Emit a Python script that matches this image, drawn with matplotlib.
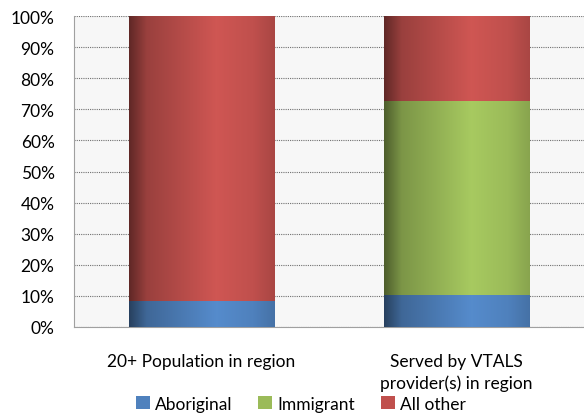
import numpy as np
import matplotlib.pyplot as plt
from matplotlib.colors import to_rgb

plt.rcParams['font.family'] = ['Lato', 'DejaVu Sans']

categories = ['20+ Population in region', 'Served by VTALS\nprovider(s) in region']
aboriginal = [8.4, 10.3]
immigrant = [0.0, 62.4]
all_other = [91.6, 27.3]
series = [('Aboriginal', aboriginal, '#4f81bd'),
          ('Immigrant', immigrant, '#9bbb59'),
          ('All other', all_other, '#c0504d')]

fig = plt.figure(figsize=(5.84, 4.14), dpi=100)
ax = fig.add_axes([74/584, 1-328/414, 510/584, 311/414])
ax.set_facecolor('#f7f7f7')

x = np.arange(len(categories))
width = 0.57
bottom = np.zeros(len(categories))
grad = np.linspace(0, 1, 200)
shade = np.interp(grad, [0, 0.12, 0.6, 0.85, 1], [0.5, 0.8, 1.08, 1.0, 0.88])

for name, vals, col in series:
    bars = ax.bar(x, vals, width, bottom=bottom, color=col, label=name, zorder=2)
    base = np.array(to_rgb(col))
    img = np.clip(base[None, :] * shade[:, None], 0, 1)[None, :, :]
    for b in bars:
        if b.get_height() <= 0:
            continue
        x0, y0 = b.get_x(), b.get_y()
        ax.imshow(img, extent=(x0, x0 + b.get_width(), y0, y0 + b.get_height()),
                  aspect='auto', zorder=3, interpolation='bilinear')
    bottom += np.array(vals)

ax.set_xlim(-0.5, 1.5)
ax.set_ylim(0, 100)
ax.set_yticks(range(0, 101, 10))
ax.set_yticklabels([f'{v}%' for v in range(0, 101, 10)], fontsize=12.5)
ax.set_xticks(x)
ax.set_xticklabels(categories, fontsize=12.5, linespacing=1.4)
ax.tick_params(length=0)
ax.tick_params(axis='x', pad=19)
ax.tick_params(axis='y', pad=14)
ax.yaxis.grid(True, color='#707070', linestyle=(0, (1, 1)), linewidth=0.8, zorder=1)
ax.set_axisbelow(True)
for s in ['top', 'right']:
    ax.spines[s].set_visible(False)
ax.spines['left'].set_color('#a0a0a0')
ax.spines['bottom'].set_color('#a0a0a0')

ax.legend(loc='lower center', bbox_to_anchor=(0.5 - 28/510, -0.3), ncol=3, frameon=False,
          fontsize=12.5, handlelength=0.8, handleheight=0.8, handletextpad=0.3,
          columnspacing=1.5, borderpad=0)

fig.savefig('out.png', dpi=100)
